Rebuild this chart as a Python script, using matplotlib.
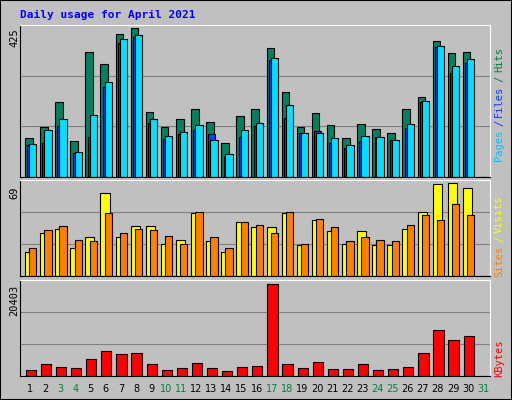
import numpy as np
import matplotlib.pyplot as plt

days = list(range(1, 32))
hits = [108, 141, 210, 100, 349, 315, 400, 417, 182, 141, 162, 190, 154, 94, 171,
        190, 360, 238, 141, 179, 145, 108, 148, 134, 123, 190, 224, 380, 346, 349, 0]
files = [89, 94, 142, 66, 111, 253, 374, 391, 151, 106, 120, 131, 120, 60, 111,
         142, 326, 165, 123, 128, 94, 80, 100, 111, 103, 137, 210, 363, 292, 320, 0]
pages = [91, 131, 162, 69, 173, 267, 385, 397, 162, 114, 125, 145, 103, 63, 131,
         151, 332, 202, 123, 123, 108, 89, 114, 111, 103, 148, 213, 366, 309, 329, 0]
visits = [17, 31, 34, 20, 28, 60, 28, 36, 36, 23, 26, 45, 25, 17, 39,
          35, 35, 45, 22, 40, 32, 23, 32, 22, 22, 34, 46, 66, 67, 63, 0]
sites = [20, 33, 36, 26, 25, 45, 31, 34, 33, 29, 23, 46, 28, 20, 39,
         37, 31, 46, 23, 41, 35, 25, 28, 26, 25, 37, 44, 40, 52, 44, 0]
kbytes = [1355, 2640, 2000, 1785, 3710, 5210, 4780, 4990, 2640, 1355, 1785, 2850, 1785, 1140, 2000,
          2210, 19620, 2640, 1785, 3070, 1570, 1570, 2640, 1355, 1570, 2000, 4990, 9700, 7560, 8420, 0]
weekend = [3, 4, 10, 11, 17, 18, 24, 25, 31]
max_hits, max_sites, max_kb = 425, 69, 20403

BG = "#C0C0C0"
fig = plt.figure(figsize=(5.12, 4.0), dpi=100, facecolor=BG)
W, H = 512, 400

def panel(top, bottom):
    ax = fig.add_axes([20 / W, 1 - bottom / H, 470 / W, (bottom - top) / H])
    ax.set_facecolor(BG)
    ax.set_xlim(0.32, 31.45)
    ax.set_xticks([])
    ax.set_yticks([])
    for s in ax.spines.values():
        s.set_color("white")
    ax.spines["bottom"].set_color("black")
    ax.spines["left"].set_color("black")
    return ax

x = np.array(days)
kw = dict(align="edge", edgecolor="black", linewidth=0.8)

ax1 = panel(25, 177)
ax1.set_ylim(0, max_hits)
for g in (max_hits / 3, 2 * max_hits / 3):
    ax1.axhline(g, color="#808080", lw=0.8, zorder=0)
ax1.bar(x - 0.35, hits, width=0.5, color="#008060", **kw)
ax1.bar(x - 0.2, files, width=0.45, color="#0040FF", **kw)
ax1.bar(x - 0.07, pages, width=0.48, color="#00E0FF", **kw)

ax2 = panel(180, 276)
ax2.set_ylim(0, max_sites)
for g in (max_sites / 3, 2 * max_sites / 3):
    ax2.axhline(g, color="#808080", lw=0.8, zorder=0)
ax2.bar(x - 0.35, visits, width=0.6, color="#FFFF00", **kw)
ax2.bar(x - 0.07, sites, width=0.48, color="#FF8000", **kw)

ax3 = panel(280, 376)
ax3.set_ylim(0, max_kb)
for g in (max_kb / 3, 2 * max_kb / 3):
    ax3.axhline(g, color="#808080", lw=0.8, zorder=0)
ax3.bar(x - 0.3, kbytes, width=0.68, color="#FF0000", **kw)

for d in days:
    c = "#008040" if d in weekend else "black"
    fig.text((20 + (d - 0.32) / 31.13 * 470) / W, 1 - 389 / H, str(d), color=c,
             ha="center", va="center", fontsize=7, family="DejaVu Sans")

mono = dict(family="DejaVu Sans Mono", fontsize=7.5, rotation=90, ha="center", va="center")
fig.text(14 / W, 1 - 38 / H, str(max_hits), color="black", **mono)
fig.text(14 / W, 1 - 193 / H, str(max_sites), color="black", **mono)
fig.text(14 / W, 1 - 300 / H, str(max_kb), color="black", **mono)

def right_label(parts, y_bottom):
    y = y_bottom
    for txt, col in parts:
        h = len(txt) * 6.0
        fig.text(499 / W, 1 - (y - h / 2) / H, txt, color=col, **mono)
        y -= h + 4
right_label([("Pages", "#00C0FF"), ("/", "#0040FF"), ("Files", "#0040FF"),
             ("/", "#008040"), ("Hits", "#008040")], 160)
right_label([("Sites", "#FF8000"), ("/", "#FFFF00"), ("Visits", "#FFFF00")], 276)
right_label([("KBytes", "#FF0000")], 376)

fig.text(20 / W, 1 - 15 / H, "Daily usage for April 2021", color="#0000FF",
         family="DejaVu Sans Mono", fontsize=8, fontweight="bold", ha="left", va="center")

fig.add_artist(plt.Rectangle((0, 0), 1, 1, transform=fig.transFigure, fill=False,
                             edgecolor="black", lw=1.5))
fig.savefig("out.png", dpi=100, facecolor=BG)
